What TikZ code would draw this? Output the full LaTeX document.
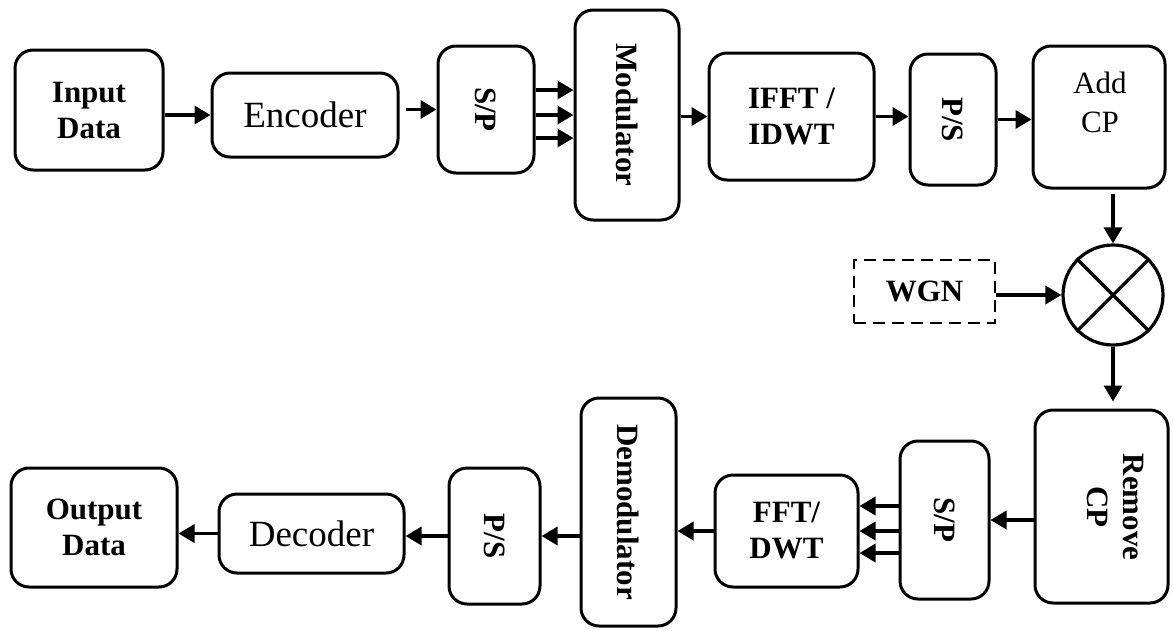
\documentclass[tikz,border=0pt]{standalone}
\usepackage{fontspec}
\setmainfont{Liberation Serif}
\usepackage{graphicx}
\usetikzlibrary{arrows.meta,shapes.geometric}
\begin{document}
\begin{tikzpicture}[x=1pt,y=-1pt,
  box/.style={draw,line width=3pt,rounded corners=18pt,inner sep=0pt,align=center},
  bt/.style={font=\fontsize{31}{36}\selectfont\bfseries,align=center},
  rt/.style={font=\fontsize{37}{42}\selectfont,align=center},
  addtxt/.style={font=\fontsize{31}{39}\selectfont,align=center},
  arr/.style={line width=3.5pt,-{Triangle[length=16pt,width=18pt]}}]
\useasboundingbox (0,0) rectangle (1173,630);
% top row
\node[box,bt,minimum width=148pt,minimum height=120pt] (in) at (89,110) {Input\\Data};
\node[box,rt,minimum width=186pt,minimum height=84pt] (enc) at (305,115) {Encoder};
\node[box,bt,minimum width=96pt,minimum height=127pt] (sp1) at (486,109.5) {\rotatebox{-90}{S/P}};
\node[box,bt,minimum width=104pt,minimum height=210pt] (mod) at (627,115) {\rotatebox{-90}{Modulator}};
\node[box,bt,minimum width=165pt,minimum height=127pt] (ifft) at (791.5,116.5) {IFFT /\\IDWT};
\node[box,bt,minimum width=86pt,minimum height=131pt] (ps1) at (953,119.5) {\rotatebox{-90}{P/S}};
\node[box,minimum width=132pt,minimum height=142pt] (add) at (1099,117) {};
\node[addtxt] (addt) at (1100,102) {Add\\CP};
% channel
\node[draw,circle,line width=3.2pt,minimum size=100pt,inner sep=0pt] (circ) at (1113,295) {};
\draw[line width=3.2pt] (circ.north east) -- (circ.south west) (circ.north west) -- (circ.south east);
\node[draw,dash pattern=on 12pt off 7pt,line width=2.8pt,bt,minimum width=141pt,minimum height=63pt,inner sep=0pt] (wgn) at (924.5,291.5) {WGN};
% bottom row
\node[box,minimum width=133pt,minimum height=193pt] (rem) at (1101.5,506.5) {};
\node[bt] (remt) at (1113,507) {\rotatebox{-90}{\begin{tabular}{@{}c@{}}Remove\\CP\end{tabular}}};
\node[box,bt,minimum width=89pt,minimum height=158pt] (sp2) at (944.5,520) {\rotatebox{-90}{S/P}};
\node[box,bt,minimum width=143pt,minimum height=112pt] (fft) at (786.5,531) {FFT/\\DWT};
\node[box,bt,minimum width=95pt,minimum height=228pt] (demod) at (628.5,512) {\rotatebox{-90}{Demodulator}};
\node[box,bt,minimum width=91pt,minimum height=136pt] (ps2) at (494.5,536) {\rotatebox{-90}{P/S}};
\node[box,rt,minimum width=185pt,minimum height=79pt] (dec) at (311.5,533.5) {Decoder};
\node[box,bt,minimum width=166pt,minimum height=119pt] (out) at (94,527.5) {Output\\Data};
% arrows top
\draw[arr] (in.east |- enc.west) -- (enc.west);
\draw[arr,shorten <=6pt] (enc.east |- sp1.west) -- (sp1.west);
\draw[arr] ([yshift=19.5pt]sp1.east) -- ([yshift=19.5pt]sp1.east -| mod.west);
\draw[arr] ([yshift=-5.5pt]sp1.east) -- ([yshift=-5.5pt]sp1.east -| mod.west);
\draw[arr] ([yshift=-28.5pt]sp1.east) -- ([yshift=-28.5pt]sp1.east -| mod.west);
\draw[arr] (mod.east |- ifft.west) -- (ifft.west);
\draw[arr] (ifft.east) -- (ifft.east -| ps1.west);
\draw[arr] (ps1.east) -- (ps1.east -| add.west);
\draw[arr,shorten <=4pt] (circ.north |- add.south) -- (circ.north);
\draw[arr] (wgn.east |- circ.west) -- (circ.west);
\draw[arr,shorten >=7pt] (circ.south) -- (circ.south |- rem.north);
% arrows bottom
\draw[arr] (rem.west |- sp2.east) -- (sp2.east);
\draw[arr] ([yshift=14pt]sp2.west) -- ([yshift=14pt]sp2.west -| fft.east);
\draw[arr] ([yshift=-11pt]sp2.west) -- ([yshift=-11pt]sp2.west -| fft.east);
\draw[arr] ([yshift=-33pt]sp2.west) -- ([yshift=-33pt]sp2.west -| fft.east);
\draw[arr] (fft.west) -- (fft.west -| demod.east);
\draw[arr] (demod.west |- ps2.east) -- (ps2.east);
\draw[arr] (ps2.west) -- (ps2.west -| dec.east);
\draw[arr] (dec.west) -- (dec.west -| out.east);
\end{tikzpicture}
\end{document}
